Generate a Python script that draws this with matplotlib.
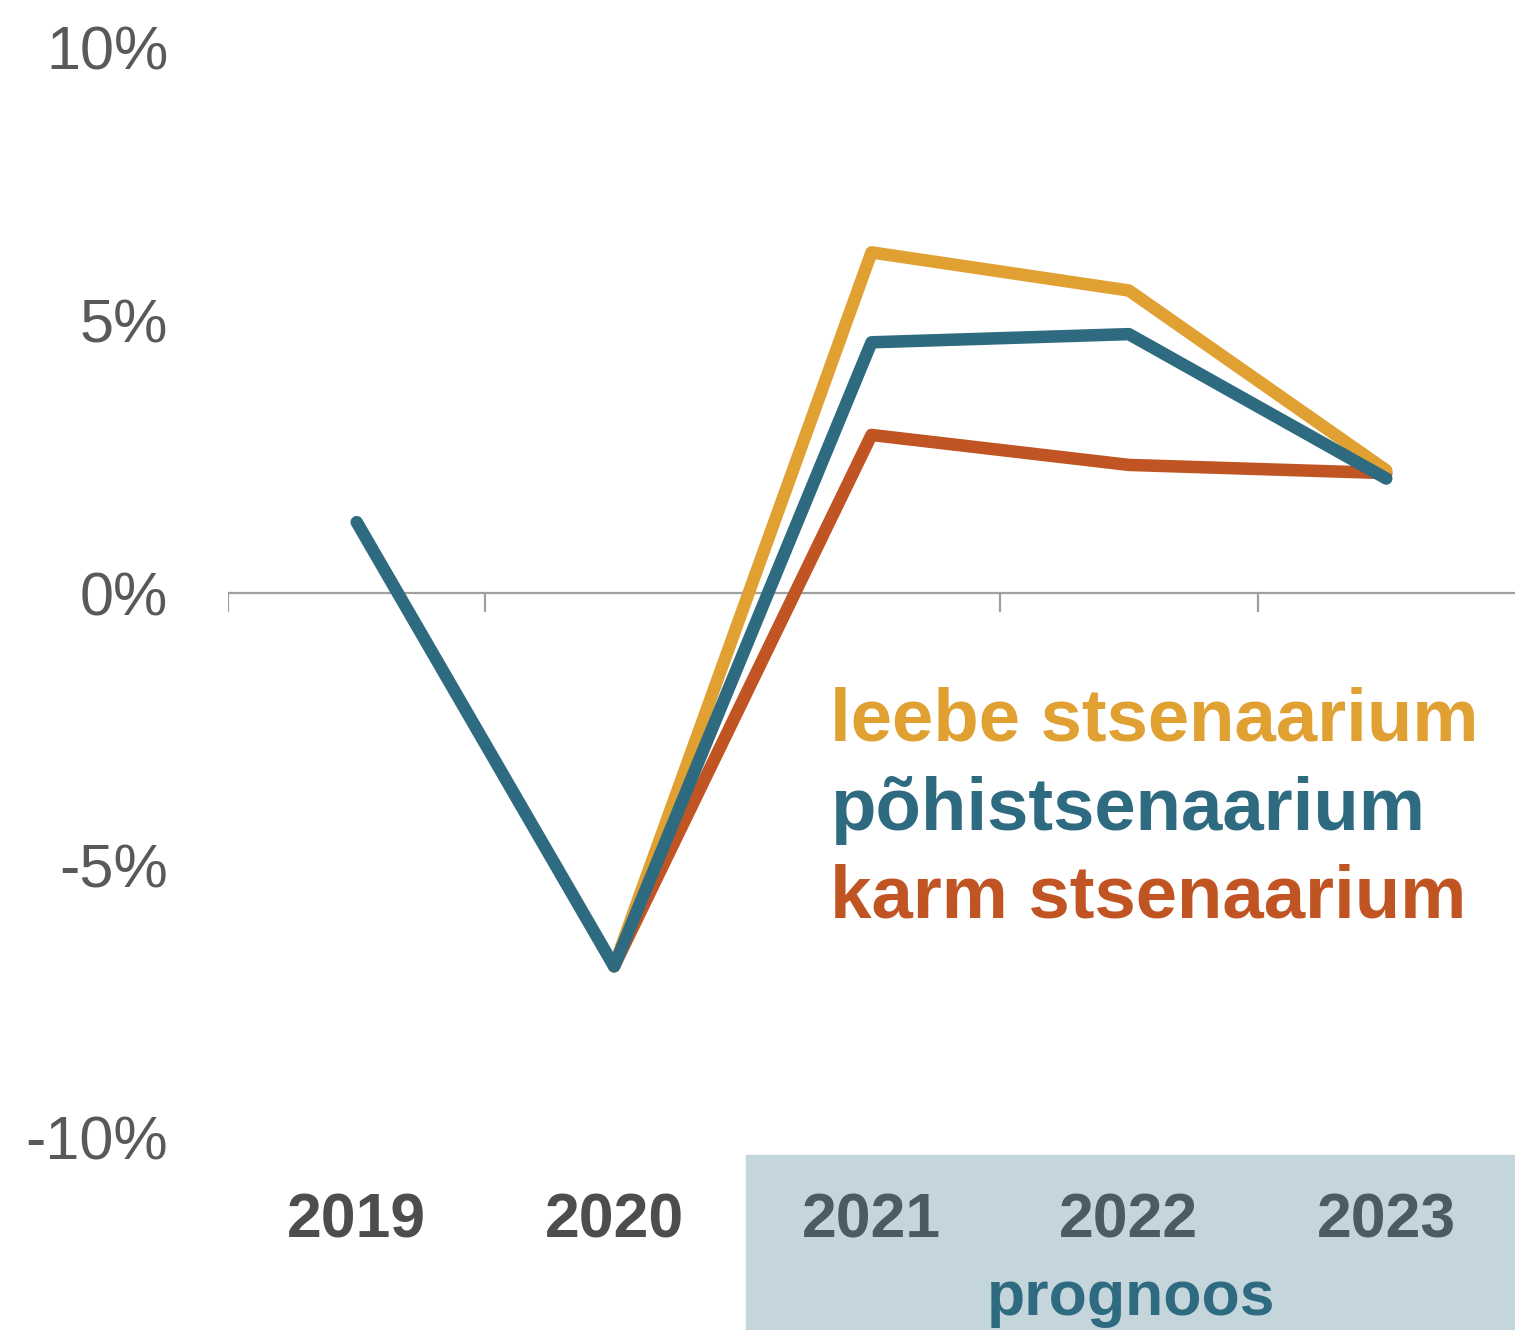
import numpy as np
import matplotlib
matplotlib.use("Agg")
import matplotlib.pyplot as plt
from matplotlib.patches import Rectangle

# data (GDP growth, %)
years = ["2019", "2020", "2021", "2022", "2023"]
pohi = [1.3, -6.85, 4.6, 4.75, 2.1]
leebe = [None, -6.85, 6.25, 5.55, 2.25]
karm = [None, -6.85, 2.9, 2.35, 2.2]
yticks = [-10, -5, 0, 5, 10]

c_leebe = "#e0a032"
c_pohi = "#2e6b80"
c_karm = "#c05423"
c_box = "#c4d5dc"

font = ["Liberation Sans", "DejaVu Sans"]

fig = plt.figure(figsize=(15.15, 13.3), dpi=100)
ax = fig.add_axes([228 / 1515, 192 / 1330, 1 - 228 / 1515, 1090 / 1330])

x = np.arange(len(years))


def series(vals):
    xs = [xi for xi, v in zip(x, vals) if v is not None]
    ys = [v for v in vals if v is not None]
    return xs, ys


lw = 9
for vals, col in [(karm, c_karm), (leebe, c_leebe), (pohi, c_pohi)]:
    xs, ys = series(vals)
    ax.plot(xs, ys, color=col, lw=lw, solid_capstyle="round", zorder=3)

ax.set_xlim(-0.5, 4.5)
ax.set_ylim(-10, 10)

for s in ax.spines.values():
    s.set_visible(False)
ax.axhline(0, color="#a0a0a0", lw=1.6, zorder=1)
for b in [-0.5, 0.5, 1.5, 2.5, 3.5]:
    ax.plot([b, b], [0, -0.33], color="#a0a0a0", lw=1.6, zorder=1)

ax.set_yticks(yticks)
ax.set_yticklabels([f"{t}%" for t in yticks], family=font, fontsize=44, color="#595959")
ax.tick_params(axis="y", length=0, pad=43)
ax.set_xticks([])

# forecast shaded box under the axis
ax.add_patch(Rectangle((1.512, -14.0), 3.2, 14.0 - 10.31, color=c_box,
                       clip_on=False, zorder=0.5))

for i, yr in enumerate(years):
    col = "#4d4d4d" if i < 2 else "#4a5b63"
    ax.text(i, -11.82, yr, ha="center", va="baseline", fontsize=45, fontweight="bold",
            family=font, color=col, clip_on=False, zorder=4)
ax.text(3.01, -13.25, "prognoos", ha="center", va="baseline", fontsize=45, fontweight="bold",
        family=font, color=c_pohi, clip_on=False, zorder=4)

# legend as coloured text
leg = [("leebe stsenaarium", c_leebe, -2.70), ("põhistsenaarium", c_pohi, -4.35),
       ("karm stsenaarium", c_karm, -5.96)]
for txt, col, yy in leg:
    ax.text(1.839, yy, txt, ha="left", va="baseline", fontsize=53.6, fontweight="bold",
            family=font, color=col, zorder=4)

fig.savefig("out.png", dpi=100)
